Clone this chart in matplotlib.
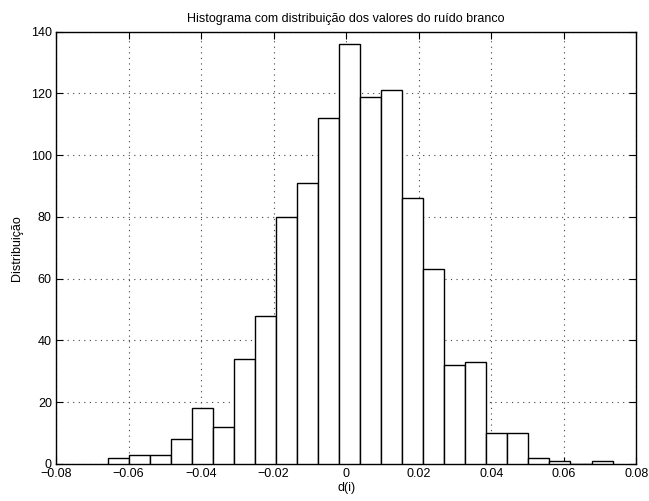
import matplotlib.pyplot as plt
import numpy as np

plt.rcParams['font.family'] = ['Liberation Sans', 'DejaVu Sans']
plt.rcParams['axes.unicode_minus'] = True

# histogram of the white noise samples (24 bins between min and max)
d_min = -0.0657
d_max = 0.0734
counts = [2, 3, 3, 8, 18, 12, 34, 48, 80, 91, 112, 136,
          119, 121, 86, 63, 32, 33, 10, 10, 2, 1, 0, 1]
xticks = [-0.08, -0.06, -0.04, -0.02, 0, 0.02, 0.04, 0.06, 0.08]
yticks = [0, 20, 40, 60, 80, 100, 120, 140]

edges = np.linspace(d_min, d_max, len(counts) + 1)
width = edges[1] - edges[0]

fig = plt.figure(figsize=(6.49, 5.01), dpi=100)
ax = fig.add_axes([0.0863, 0.0739, 0.8944, 0.8629])

ax.bar(edges[:-1], counts, width=width, align='edge',
       facecolor='white', edgecolor='black', linewidth=1.0, zorder=3)

ax.set_xlim(-0.08, 0.08)
ax.set_ylim(0, 140)
ax.set_xticks(xticks)
ax.set_yticks(yticks)
ax.set_xticklabels(['\u22120.08', '\u22120.06', '\u22120.04', '\u22120.02',
                    '0', '0.02', '0.04', '0.06', '0.08'])

ax.set_axisbelow(True)
ax.grid(True, linestyle=(0, (1, 4)), color='#444444', linewidth=0.8)
ax.tick_params(direction='in', length=5, width=0.8, labelsize=9,
               top=True, right=True, pad=3)
for s in ax.spines.values():
    s.set_linewidth(1.0)

ax.set_title('Histograma com distribuição dos valores do ruído branco',
             fontsize=9, pad=7)
ax.set_xlabel('d(i)', fontsize=9, labelpad=1)
ax.set_ylabel('Distribuição', fontsize=9, labelpad=6)

plt.savefig('out.png', dpi=100)
